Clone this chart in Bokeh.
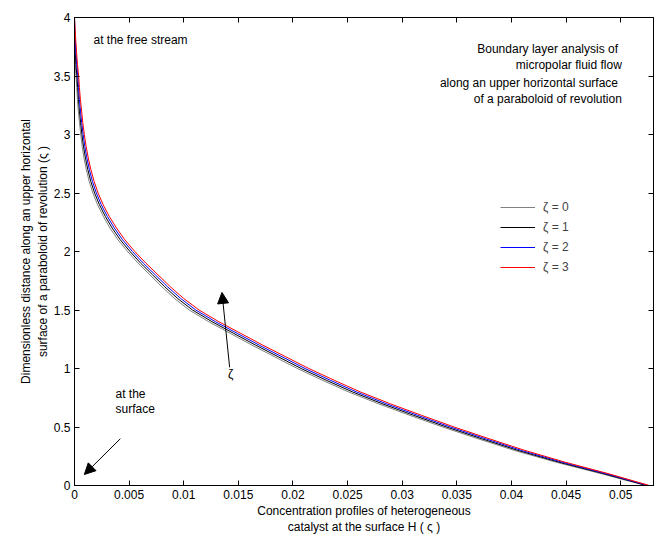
from bokeh.plotting import figure
from bokeh.models import (Label, Arrow, NormalHead, LinearAxis, FixedTicker,
                          Legend, LegendItem, Range1d)
from bokeh.embed import file_html
from bokeh.resources import INLINE

# ---------------- data ----------------
eta = [4.0, 3.9, 3.8, 3.7, 3.6, 3.5, 3.4, 3.3, 3.2, 3.1, 3.0, 2.9, 2.8, 2.7,
       2.6, 2.5, 2.4, 2.3, 2.2, 2.1, 2.0, 1.9, 1.8, 1.7, 1.6, 1.5, 1.4, 1.3,
       1.2, 1.1, 1.0, 0.9, 0.8, 0.7, 0.6, 0.5, 0.4, 0.3, 0.2, 0.1, 0.0]

H_zeta0 = [0.0, 0.0, 0.0, 0.00001, 0.00006, 0.00014, 0.00021, 0.00027,
           0.00035, 0.00046, 0.00057, 0.0007, 0.00087, 0.00108, 0.00134,
           0.00168, 0.00211, 0.00264, 0.00325, 0.00398, 0.00486, 0.00582,
           0.0069, 0.00798, 0.00914, 0.0105, 0.01228, 0.01426, 0.01624,
           0.01832, 0.0204, 0.02268, 0.02508, 0.02778, 0.03068, 0.0337,
           0.03692, 0.04026, 0.04404, 0.04826, 0.05226]
H_zeta1 = [0.0, 0.0, 0.00002, 0.00007, 0.00013, 0.00022, 0.00029, 0.00036,
           0.00045, 0.00056, 0.00068, 0.00082, 0.001, 0.00122, 0.00149,
           0.00184, 0.00228, 0.00282, 0.00345, 0.00419, 0.00508, 0.00606,
           0.00715, 0.00824, 0.00942, 0.0108, 0.01259, 0.01458, 0.01657,
           0.01866, 0.02075, 0.02304, 0.02544, 0.02814, 0.03104, 0.03405,
           0.03726, 0.04058, 0.04432, 0.04848, 0.05238]
H_zeta2 = [0.0, 0.00003, 0.00007, 0.00013, 0.0002, 0.0003, 0.00037, 0.00045,
           0.00055, 0.00066, 0.00079, 0.00094, 0.00113, 0.00136, 0.00164,
           0.0020, 0.00245, 0.0030, 0.00365, 0.0044, 0.0053, 0.0063, 0.0074,
           0.0085, 0.0097, 0.0111, 0.0129, 0.0149, 0.0169, 0.0190, 0.0211,
           0.0234, 0.0258, 0.0285, 0.0314, 0.0344, 0.0376, 0.0409, 0.0446,
           0.0487, 0.0525]
H_zeta3 = [0.0, 0.00006, 0.00012, 0.00019, 0.00027, 0.00038, 0.00045, 0.00054,
           0.00065, 0.00076, 0.0009, 0.00106, 0.00126, 0.0015, 0.00179,
           0.00216, 0.00262, 0.00318, 0.00385, 0.00461, 0.00552, 0.00654,
           0.00765, 0.00876, 0.00998, 0.0114, 0.01321, 0.01522, 0.01723,
           0.01934, 0.02145, 0.02376, 0.02616, 0.02886, 0.03176, 0.03475,
           0.03794, 0.04122, 0.04488, 0.04892, 0.05262]

series_labels = ["ζ = 0", "ζ = 1", "ζ = 2", "ζ = 3"]

x_ticks = [0.0, 0.005, 0.01, 0.015, 0.02, 0.025, 0.03, 0.035, 0.04, 0.045, 0.05]
x_tick_labels = ["0", "0.005", "0.01", "0.015", "0.02", "0.025", "0.03",
                 "0.035", "0.04", "0.045", "0.05"]
y_ticks = [0.0, 0.5, 1.0, 1.5, 2.0, 2.5, 3.0, 3.5, 4.0]
y_tick_labels = ["0", "0.5", "1", "1.5", "2", "2.5", "3", "3.5", "4"]

x_label = "Concentration profiles of heterogeneous\ncatalyst at the surface H ( ς )"
y_label = "Dimensionless distance along an upper horizontal\nsurface of a paraboloid of revolution (ς )"
title_lines = ["Boundary layer analysis of", "micropolar fluid flow",
               "along an upper horizontal surface", "of a paraboloid of revolution"]

# ---------------- figure ----------------
FONT = "Liberation Sans"
p = figure(width=658, height=537, x_range=Range1d(0, 0.053), y_range=Range1d(0, 4),
           output_backend="svg", toolbar_location=None,
           min_border_left=74, min_border_right=5, min_border_top=17,
           min_border_bottom=52)
p.xgrid.visible = False
p.ygrid.visible = False
p.outline_line_color = "black"
p.outline_line_width = 1
p.background_fill_color = "white"
p.border_fill_color = "white"

for ax, ticks, labels in ((p.xaxis[0], x_ticks, x_tick_labels),
                          (p.yaxis[0], y_ticks, y_tick_labels)):
    ax.ticker = FixedTicker(ticks=ticks)
    ax.major_label_overrides = {t: l for t, l in zip(ticks, labels)}
    ax.major_tick_in = 5
    ax.major_tick_out = 0
    ax.minor_tick_line_color = None
    ax.major_label_text_font = FONT
    ax.major_label_text_font_size = "12px"
    ax.major_label_text_color = "black"
    ax.axis_label_text_font = FONT
    ax.axis_label_text_font_size = "12px"
    ax.axis_label_text_font_style = "normal"
    ax.axis_label_text_color = "black"
    ax.axis_line_color = "black"
    ax.major_tick_line_color = "black"

p.xaxis.axis_label = x_label
p.yaxis.axis_label = y_label
p.xaxis.major_label_standoff = 4
p.xaxis.axis_label_standoff = 2
p.yaxis.major_label_standoff = 4
p.yaxis.axis_label_standoff = 1

# mirrored ticks on top and right (no labels)
top = LinearAxis(ticker=FixedTicker(ticks=x_ticks), major_tick_in=5, major_tick_out=0,
                 minor_tick_line_color=None, major_label_text_font_size="1px",
                 major_label_text_color=None,
                 major_label_standoff=0, axis_line_color="black")
right = LinearAxis(ticker=FixedTicker(ticks=y_ticks), major_tick_in=5, major_tick_out=0,
                   minor_tick_line_color=None, major_label_text_font_size="1px",
                   major_label_text_color=None,
                   major_label_standoff=0, axis_line_color="black")
p.add_layout(top, "above")
p.add_layout(right, "right")

# ---------------- curves ----------------
r0 = p.line(H_zeta0, eta, line_color="black", line_width=0.5)
r1 = p.line(H_zeta1, eta, line_color="black", line_width=1)
r2 = p.line(H_zeta2, eta, line_color="blue", line_width=1)
r3 = p.line(H_zeta3, eta, line_color="red", line_width=1)

legend = Legend(items=[LegendItem(label=series_labels[i], renderers=[r])
                       for i, r in enumerate([r0, r1, r2, r3])],
                location=(426, 208), padding=0, margin=0, spacing=0,
                glyph_width=35, glyph_height=20, label_height=20,
                label_standoff=8, border_line_color=None,
                background_fill_alpha=0,
                label_text_font=FONT, label_text_font_size="12px")
p.add_layout(legend)

# ---------------- annotations ----------------
def add_label(x, y, text, align="left"):
    p.add_layout(Label(x=x, y=y, text=text, text_font=FONT, text_font_size="12px",
                       text_color="black", text_align=align,
                       text_baseline="middle"))

add_label(0.00174, 3.81, "at the free stream")
add_label(0.04975, 3.735, title_lines[0], "right")
add_label(0.0501, 3.59, title_lines[1], "right")
add_label(0.04975, 3.44, title_lines[2], "right")
add_label(0.0501, 3.30, title_lines[3], "right")
add_label(0.00375, 0.786, "at the")
add_label(0.00375, 0.65, "surface")
add_label(0.0143, 0.95, "ζ", "center")

p.add_layout(Arrow(end=NormalHead(size=11, fill_color="black", line_color="black"),
                   x_start=0.0142, y_start=1.01, x_end=0.0135, y_end=1.65,
                   line_color="black", line_width=1))
p.add_layout(Arrow(end=NormalHead(size=11, fill_color="black", line_color="black"),
                   x_start=0.0042, y_start=0.40, x_end=0.0009, y_end=0.094,
                   line_color="black", line_width=1))

open("out.html", "w").write(file_html(p, INLINE))
